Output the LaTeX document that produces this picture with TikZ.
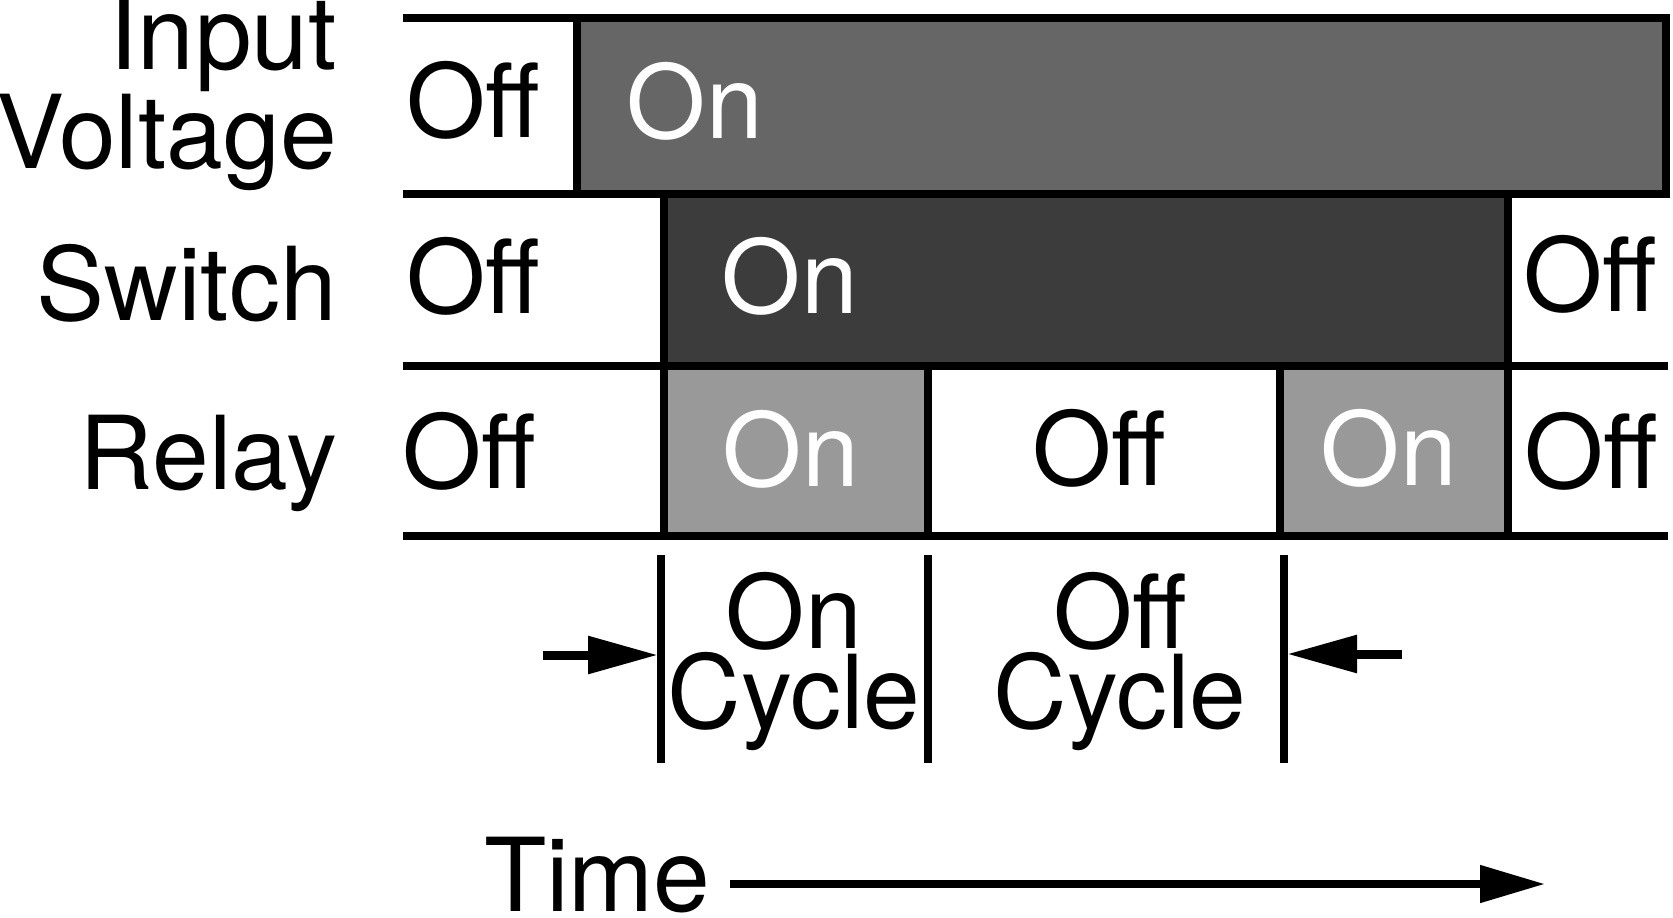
\documentclass[tikz,border=0pt]{standalone}
\usepackage{fontspec}
\setmainfont{TeX Gyre Heros}
\usetikzlibrary{arrows.meta}
\definecolor{inputgray}{HTML}{666666}
\definecolor{switchgray}{HTML}{3C3C3C}
\definecolor{relaygray}{HTML}{999999}
\begin{document}
\begin{tikzpicture}[x=0.5pt,y=-0.5pt,
  every node/.style={inner sep=0pt, outer sep=0pt},
  txt/.style={font=\fontsize{51}{47.5}\selectfont, anchor=base},
  wtxt/.style={txt, text=white},
  lbl/.style={txt, anchor=base east, align=right},
  cyc/.style={font=\fontsize{51}{40}\selectfont, anchor=base, align=center},
  rulel/.style={line width=4pt},
  box/.style={draw, line width=4pt, line join=miter},
  tickl/.style={line width=3.7pt},
  arr/.style={line width=4.5pt, -{Triangle[length=35pt,width=18pt]}},
  tarr/.style={line width=4pt, -{Triangle[length=32.5pt,width=18pt]}},
]
\useasboundingbox (0,0) rectangle (1673,917);

% boxes
\draw[box, fill=inputgray] (577,18) rectangle (1666,194);
\draw[box, fill=switchgray] (664,194) rectangle (1508,366);
\draw[box, fill=relaygray] (664,366) rectangle (928,536);
\draw[box, fill=relaygray] (1280,366) rectangle (1508,536);

% horizontal rules
\draw[rulel] (403,18) -- (577,18);
\draw[rulel] (403,194) -- (1666,194);
\draw[rulel] (403,366) -- (1668,366);
\draw[rulel] (403,536) -- (1668,536);

% row labels
\node[lbl] (lin) at (337,168) {Input\\Voltage};
\node[lbl] (lsw) at (337,320) {Switch};
\node[lbl] (lre) at (337,489) {Relay};

% states
\node[txt] (i1) at (473,137) {Off};
\node[wtxt] (i2) at (695,138) {On};
\node[txt] (s1) at (473,313) {Off};
\node[wtxt] (s2) at (790,313) {On};
\node[txt] (s3) at (1590,311) {Off};
\node[txt] (r1) at (469,488) {Off};
\node[wtxt] (r2) at (791,486) {On};
\node[txt] (r3) at (1099,485) {Off};
\node[wtxt] (r4) at (1389,485) {On};
\node[txt] (r5) at (1591,488) {Off};

% cycle ticks
\coordinate (t1a) at (661,555); \coordinate (t1b) at (661,763);
\coordinate (t2a) at (928,555); \coordinate (t2b) at (928,763);
\coordinate (t3a) at (1284,555); \coordinate (t3b) at (1284,763);
\draw[tickl] (t1a) -- (t1b);
\draw[tickl] (t2a) -- (t2b);
\draw[tickl] (t3a) -- (t3b);

\coordinate (la) at (543,655); \coordinate (lt) at (658,655);
\coordinate (ra) at (1402,654); \coordinate (rt) at (1287,654);
\draw[arr] (la) -- (lt);
\draw[arr] (ra) -- (rt);

\node[cyc] (con) at (794,728) {On\\Cycle};
\node[cyc] (cof) at (1120,728) {Off\\Cycle};

% time
\node[txt, anchor=base west] (time) at (484,911) {Time};
\coordinate (ta) at (730,884); \coordinate (tb) at (1545,884);
\draw[tarr] (ta) -- (tb);
\end{tikzpicture}
\end{document}
